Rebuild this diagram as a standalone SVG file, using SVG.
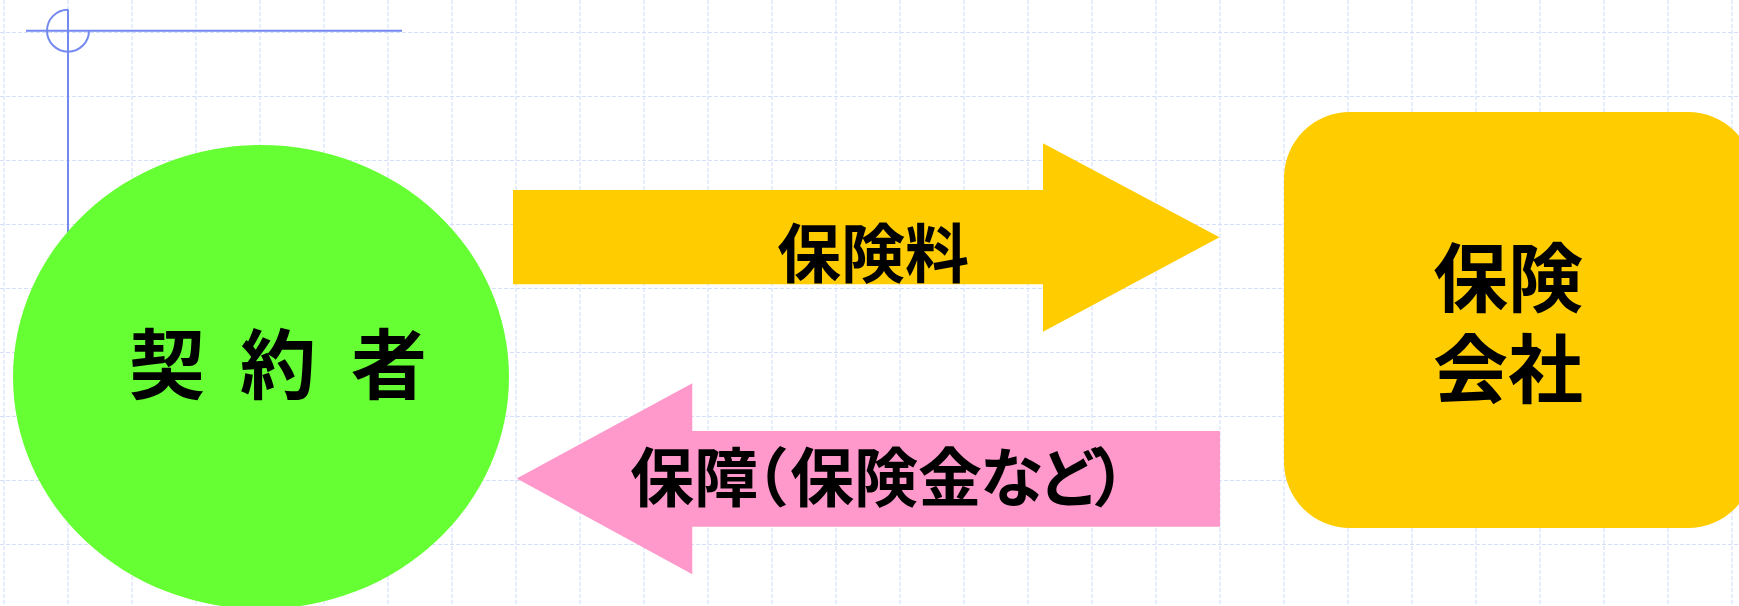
<svg xmlns="http://www.w3.org/2000/svg" width="1739" height="606" viewBox="0 0 1739 606">
<defs>
<style>
.grid line{stroke:#d6dff9;stroke-width:1.1;stroke-dasharray:4 2;fill:none}
.guide{stroke:#7389f0;stroke-width:2;fill:none}
.lbl{font-family:"Noto Sans CJK JP","Noto Sans CJK SC",sans-serif;font-weight:700;fill:#000}
</style>
</defs>
<rect x="0" y="0" width="1739" height="606" fill="#fff"/>
<g class="grid">
<line x1="4" y1="0" x2="4" y2="606"/><line x1="68" y1="0" x2="68" y2="606"/><line x1="132" y1="0" x2="132" y2="606"/><line x1="196" y1="0" x2="196" y2="606"/><line x1="260" y1="0" x2="260" y2="606"/><line x1="324" y1="0" x2="324" y2="606"/><line x1="388" y1="0" x2="388" y2="606"/><line x1="452" y1="0" x2="452" y2="606"/><line x1="516" y1="0" x2="516" y2="606"/><line x1="580" y1="0" x2="580" y2="606"/><line x1="644" y1="0" x2="644" y2="606"/><line x1="708" y1="0" x2="708" y2="606"/><line x1="772" y1="0" x2="772" y2="606"/><line x1="836" y1="0" x2="836" y2="606"/><line x1="900" y1="0" x2="900" y2="606"/><line x1="964" y1="0" x2="964" y2="606"/><line x1="1028" y1="0" x2="1028" y2="606"/><line x1="1092" y1="0" x2="1092" y2="606"/><line x1="1156" y1="0" x2="1156" y2="606"/><line x1="1220" y1="0" x2="1220" y2="606"/><line x1="1284" y1="0" x2="1284" y2="606"/><line x1="1348" y1="0" x2="1348" y2="606"/><line x1="1412" y1="0" x2="1412" y2="606"/><line x1="1476" y1="0" x2="1476" y2="606"/><line x1="1540" y1="0" x2="1540" y2="606"/><line x1="1604" y1="0" x2="1604" y2="606"/><line x1="1668" y1="0" x2="1668" y2="606"/><line x1="1732" y1="0" x2="1732" y2="606"/>
<line x1="0" y1="32.5" x2="1739" y2="32.5"/><line x1="0" y1="96.5" x2="1739" y2="96.5"/><line x1="0" y1="160.5" x2="1739" y2="160.5"/><line x1="0" y1="224.5" x2="1739" y2="224.5"/><line x1="0" y1="288.5" x2="1739" y2="288.5"/><line x1="0" y1="352.5" x2="1739" y2="352.5"/><line x1="0" y1="416.5" x2="1739" y2="416.5"/><line x1="0" y1="480.5" x2="1739" y2="480.5"/><line x1="0" y1="544.5" x2="1739" y2="544.5"/>
</g>
<g id="guide">
<line class="guide" x1="26" y1="30.7" x2="402" y2="30.7"/>
<line class="guide" x1="68" y1="9.5" x2="68" y2="300"/>
<path class="guide" d="M68,9.7 A21,21 0 1,0 89,30.7"/>
</g>
<g id="node-keiyakusha">
<ellipse cx="261" cy="377" rx="248" ry="232" fill="#66ff33"/>
<text class="lbl" x="129" y="393" font-size="76" letter-spacing="35">契約者</text>
</g>
<g id="node-hoken-kaisha">
<rect x="1284" y="112" width="470" height="416" rx="66" ry="66" fill="#ffcc00"/>
<text class="lbl" x="1508" y="306" font-size="75" text-anchor="middle">保険</text>
<text class="lbl" x="1508" y="397" font-size="75" text-anchor="middle">会社</text>
</g>
<g id="connectors">
<g id="arrow-premium">
<path d="M513,190 H1043 V143.3 L1219.5,237.3 L1043,331.7 V284.3 H513 Z" fill="#ffcc00"/>
<text class="lbl" x="873" y="276.5" font-size="64" text-anchor="middle">保険料</text>
</g>
<g id="arrow-benefit">
<path d="M1220,431 H692.3 V383.3 L516.7,478.5 L692.3,574.3 V526.7 H1220 Z" fill="#ff99cc"/>
<text class="lbl" y="500.5" font-size="64" x="630 694 725 790 854 918 980 1038 1092">保障（保険金など）</text>
</g>
</g>
</svg>
